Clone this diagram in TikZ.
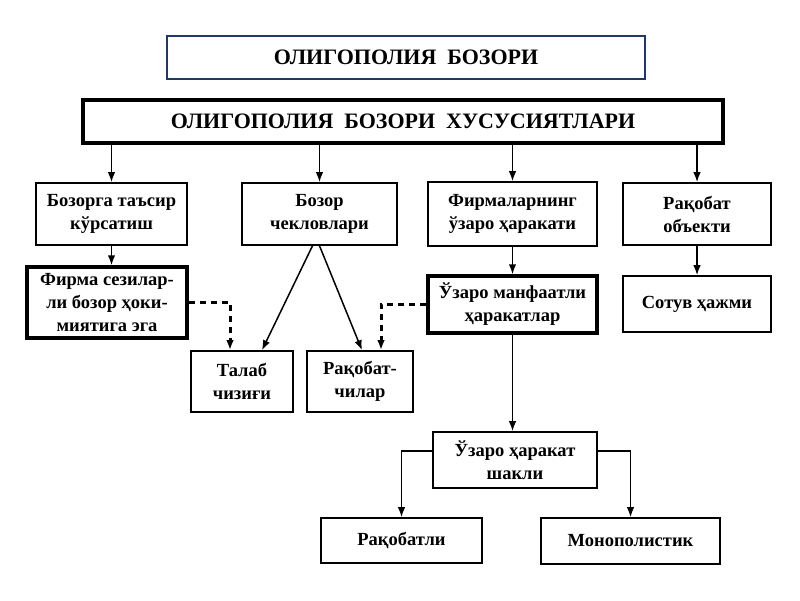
\documentclass[tikz,border=0pt]{standalone}
\usepackage{fontspec}
\setmainfont{Liberation Serif}
\usetikzlibrary{arrows.meta,positioning,calc}
\definecolor{navy}{RGB}{31,56,100}

\begin{document}
\begin{tikzpicture}[x = 1pt, y = -1pt, >={Latex[length = 10pt, width = 7.5pt]},
  box/.style = {draw, line width = 1.6pt, align = center, inner sep = 0pt, font = \bfseries\fontsize{18.5}{23}\selectfont},
  bold box/.style = {box, line width = 3.5pt},
  title/.style = {font = \bfseries\fontsize{22}{26}\selectfont},
  link/.style = {->, line width = 1.5pt},
  dots/.style = {->, line width = 3pt, dash pattern = on 6pt off 5pt}]
\useasboundingbox (0, 0) rectangle (800, 600);

\node[box, title, draw = navy, line width = 1.2pt, minimum width = 478pt, minimum height = 43pt] (market) at (406, 57.5) {ОЛИГОПОЛИЯ\ \ БОЗОРИ};
\node[bold box, title, minimum width = 640pt, minimum height = 43pt] (head) at (403, 121.5) {ОЛИГОПОЛИЯ\ \ БОЗОРИ\ \ ХУСУСИЯТЛАРИ};

\node[box, minimum width = 151pt, minimum height = 62pt] (influence) at (111.5, 214) {Бозорга таъсир\\кўрсатиш};
\node[box, minimum width = 155pt, minimum height = 62pt] (limits) at (319.5, 214) {Бозор\\чекловлари};
\node[box, minimum width = 169pt, minimum height = 64pt] (firms) at (512.5, 214) {Фирмаларнинг\\ўзаро ҳаракати};
\node[box, minimum width = 148pt, minimum height = 62pt] (object) at (697, 214) {Рақобат\\объекти};

\node[bold box, minimum width = 160pt, minimum height = 71pt] (power) at (107, 302.5) {Фирма сезилар-\\ли бозор ҳоки-\\миятига эга};
\node[bold box, minimum width = 169pt, minimum height = 57pt] (mutual) at (512.5, 304.5) {Ўзаро манфаатли\\ҳаракатлар};
\node[box, minimum width = 148pt, minimum height = 56pt] (volume) at (697, 304) {Сотув ҳажми};

\node[box, minimum width = 102pt, minimum height = 61pt] (demand) at (242, 381.5) {Талаб\\чизиғи};
\node[box, minimum width = 106pt, minimum height = 61pt] (rivals) at (360, 381.5) {Рақобат-\\чилар};

\node[box, minimum width = 164pt, minimum height = 56pt] (form) at (515, 460) {Ўзаро ҳаракат\\шакли};
\node[box, minimum width = 161pt, minimum height = 45pt] (compete) at (401.5, 540.5) {Рақобатли};
\node[box, minimum width = 179pt, minimum height = 46pt] (monopoly) at (630.5, 541) {Монополистик};

\draw[link] (influence.north |- head.south) -- (influence.north);
\draw[link] (limits.north |- head.south) -- (limits.north);
\draw[link] (firms.north |- head.south) -- (firms.north);
\draw[link] (object.north |- head.south) -- (object.north);

\draw[link] (influence.south) -- (influence.south |- power.north);
\draw[link] (firms) -- (mutual);
\draw[link] (object) -- (volume);

\draw[link] ($(limits.south) + (-7, 0)$) -- ($(demand.north) + (20, 0)$);
\draw[link] (limits.south) -- ($(rivals.north) + (2, 0)$);
\draw[dots] (power.east) -| ($(demand.north) + (-12, 0)$);
\draw[dots] (mutual.west) -| ($(rivals.north) + (21, 0)$);

\draw[link] (mutual.south) -- (mutual.south |- form.north);
\draw[link] ([yshift = 9pt]form.west) -| (compete.north);
\draw[link] ([yshift = 9pt]form.east) -| (monopoly.north);

\end{tikzpicture}
\end{document}
